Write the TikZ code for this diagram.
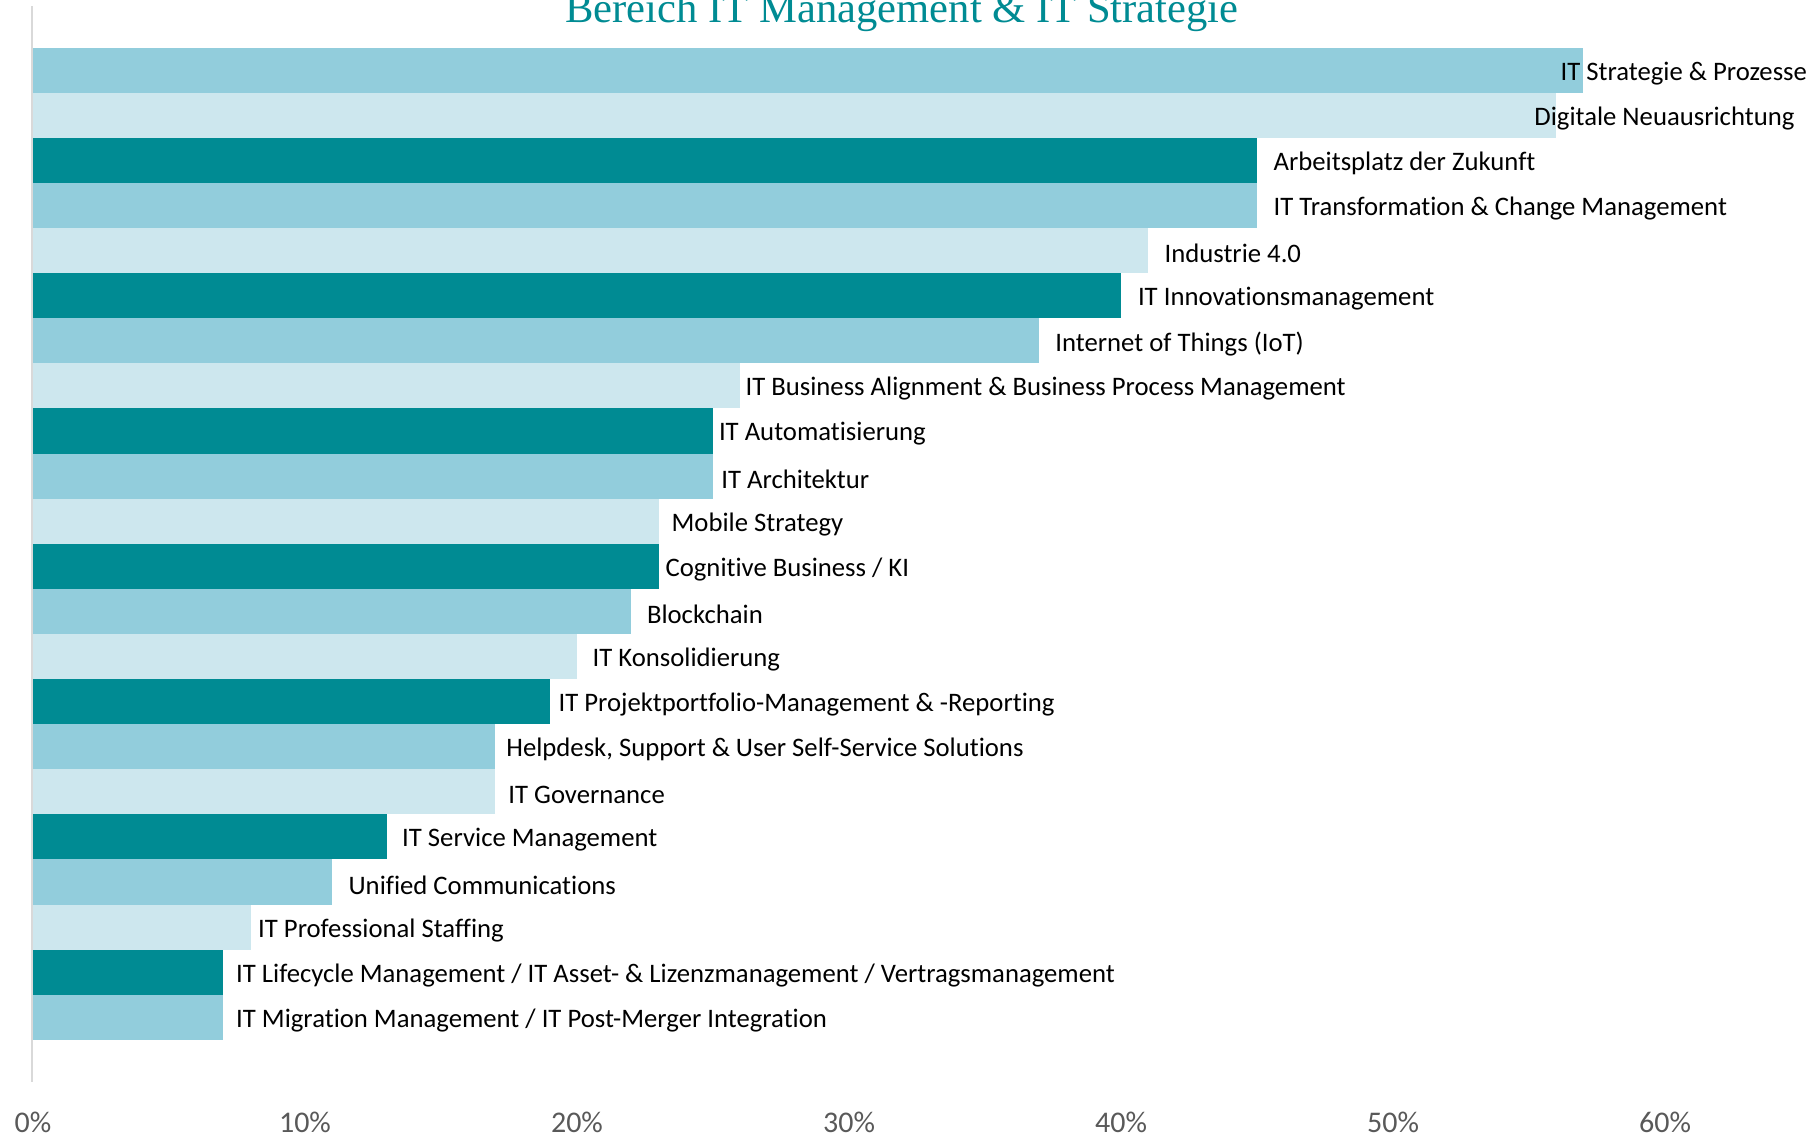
\documentclass[tikz,border=0pt]{standalone}
\usepackage{fontspec}
\setmainfont{Carlito}[Ligatures={NoCommon}]
\newfontfamily\titlefont{Liberation Serif}
\usetikzlibrary{positioning}
\definecolor{tealdark}{HTML}{008B93}
\definecolor{tealmid}{HTML}{92CDDC}
\definecolor{teallight}{HTML}{CDE7EE}
\definecolor{axisgray}{HTML}{D9D9D9}
\definecolor{ticktext}{HTML}{595959}
\newcommand{\barunit}{13.6pt}
\tikzset{
  itbar/.style     = {shape=rectangle, anchor=north west, inner sep=0pt,
                      outer sep=0pt, minimum height=22.55pt},
  darkbar/.style   = {itbar, fill=tealdark},
  midbar/.style    = {itbar, fill=tealmid},
  lightbar/.style  = {itbar, fill=teallight},
  catlabel/.style  = {anchor=west, inner sep=0pt, outer sep=0pt, yshift=-1.5pt,
                      font=\fontsize{13.35}{16}\selectfont},
  pctlabel/.style  = {inner sep=0pt, text=ticktext,
                      font=\fontsize{15}{18}\selectfont},
  charttitle/.style = {anchor=base, inner sep=0pt, text=tealdark,
                      font=\titlefont\fontsize{21.3}{25}\selectfont},
  axisline/.style  = {draw=axisgray, line width=1pt}
}
\begin{document}
\begin{tikzpicture}[x=0.5pt, y=-0.5pt]
  \useasboundingbox (0,0) rectangle (1820,1141);
  \node [charttitle] (title) at (902,22) {Bereich IT Management \& IT Strategie};
  \coordinate (axtop) at (31.8,6);
  \coordinate (axbot) at (31.8,1082);
  \draw [axisline] (axtop) -- (axbot);
  % bars, top to bottom
  \node [midbar, minimum width=57*\barunit] (b1) at (33,47.6) {};
  \node [lightbar, minimum width=56*\barunit] (b2) [below=0pt of b1.south west, anchor=north west] {};
  \node [darkbar, minimum width=45*\barunit] (b3) [below=0pt of b2.south west, anchor=north west] {};
  \node [midbar, minimum width=45*\barunit] (b4) [below=0pt of b3.south west, anchor=north west] {};
  \node [lightbar, minimum width=41*\barunit] (b5) [below=0pt of b4.south west, anchor=north west] {};
  \node [darkbar, minimum width=40*\barunit] (b6) [below=0pt of b5.south west, anchor=north west] {};
  \node [midbar, minimum width=37*\barunit] (b7) [below=0pt of b6.south west, anchor=north west] {};
  \node [lightbar, minimum width=26*\barunit] (b8) [below=0pt of b7.south west, anchor=north west] {};
  \node [darkbar, minimum width=25*\barunit] (b9) [below=0pt of b8.south west, anchor=north west] {};
  \node [midbar, minimum width=25*\barunit] (b10) [below=0pt of b9.south west, anchor=north west] {};
  \node [lightbar, minimum width=23*\barunit] (b11) [below=0pt of b10.south west, anchor=north west] {};
  \node [darkbar, minimum width=23*\barunit] (b12) [below=0pt of b11.south west, anchor=north west] {};
  \node [midbar, minimum width=22*\barunit] (b13) [below=0pt of b12.south west, anchor=north west] {};
  \node [lightbar, minimum width=20*\barunit] (b14) [below=0pt of b13.south west, anchor=north west] {};
  \node [darkbar, minimum width=19*\barunit] (b15) [below=0pt of b14.south west, anchor=north west] {};
  \node [midbar, minimum width=17*\barunit] (b16) [below=0pt of b15.south west, anchor=north west] {};
  \node [lightbar, minimum width=17*\barunit] (b17) [below=0pt of b16.south west, anchor=north west] {};
  \node [darkbar, minimum width=13*\barunit] (b18) [below=0pt of b17.south west, anchor=north west] {};
  \node [midbar, minimum width=11*\barunit] (b19) [below=0pt of b18.south west, anchor=north west] {};
  \node [lightbar, minimum width=8*\barunit] (b20) [below=0pt of b19.south west, anchor=north west] {};
  \node [darkbar, minimum width=7*\barunit] (b21) [below=0pt of b20.south west, anchor=north west] {};
  \node [midbar, minimum width=7*\barunit] (b22) [below=0pt of b21.south west, anchor=north west] {};
  % labels
  \node [catlabel] (l1) [right=-11.4pt of b1] {IT Strategie \& Prozesse};
  \node [catlabel] (l2) [right=-10.9pt of b2] {Digitale Neuausrichtung};
  \node [catlabel] (l3) [right=8.3pt of b3] {Arbeitsplatz der Zukunft};
  \node [catlabel] (l4) [right=8.3pt of b4] {IT Transformation \& Change Management};
  \node [catlabel] (l5) [right=8.2pt of b5] {Industrie 4.0};
  \node [catlabel] (l6) [right=8.5pt of b6] {IT Innovationsmanagement};
  \node [catlabel] (l7) [right=8pt of b7] {Internet of Things (IoT)};
  \node [catlabel] (l8) [right=2.7pt of b8] {IT Business Alignment \& Business Process Management};
  \node [catlabel] (l9) [right=3pt of b9] {IT Automatisierung};
  \node [catlabel] (l10) [right=4.2pt of b10] {IT Architektur};
  \node [catlabel] (l11) [right=6.5pt of b11] {Mobile Strategy};
  \node [catlabel] (l12) [right=3.5pt of b12] {Cognitive Business / KI};
  \node [catlabel] (l13) [right=7.8pt of b13] {Blockchain};
  \node [catlabel] (l14) [right=7.8pt of b14] {IT Konsolidierung};
  \node [catlabel] (l15) [right=4.4pt of b15] {IT Projektportfolio-Management \& -Reporting};
  \node [catlabel] (l16) [right=5.5pt of b16] {Helpdesk, Support \& User Self-Service Solutions};
  \node [catlabel] (l17) [right=6.5pt of b17] {IT Governance};
  \node [catlabel] (l18) [right=7.8pt of b18] {IT Service Management};
  \node [catlabel] (l19) [right=8.2pt of b19] {Unified Communications};
  \node [catlabel] (l20) [right=3.8pt of b20] {IT Professional Staffing};
  \node [catlabel] (l21) [right=6.4pt of b21] {IT Lifecycle Management / IT Asset- \& Lizenzmanagement / Vertragsmanagement};
  \node [catlabel] (l22) [right=6.4pt of b22] {IT Migration Management / IT Post-Merger Integration};
  % axis ticks
  \node [pctlabel] (t0) at (33,1122) {0\%};
  \node [pctlabel] (t10) at (305,1122) {10\%};
  \node [pctlabel] (t20) at (577,1122) {20\%};
  \node [pctlabel] (t30) at (849,1122) {30\%};
  \node [pctlabel] (t40) at (1121,1122) {40\%};
  \node [pctlabel] (t50) at (1393,1122) {50\%};
  \node [pctlabel] (t60) at (1665,1122) {60\%};
\end{tikzpicture}
\end{document}
